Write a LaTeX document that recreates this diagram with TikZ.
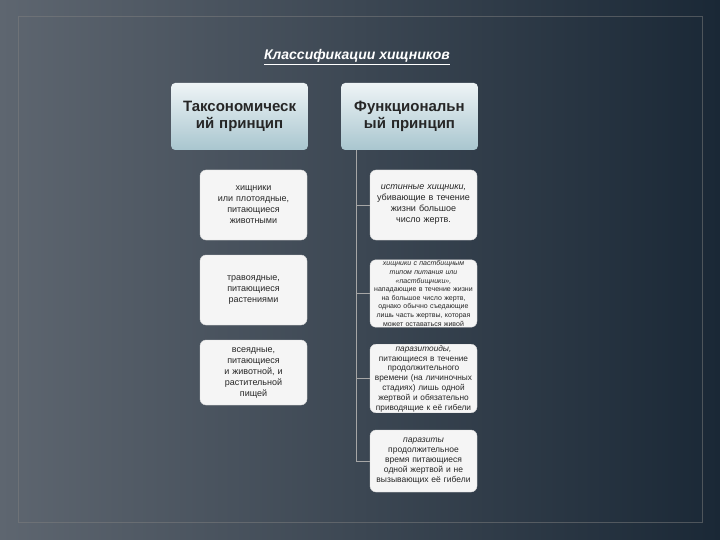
\documentclass[tikz,border=0pt]{standalone}
\usepackage{fontspec}
\setmainfont{Liberation Sans}
\definecolor{bgl}{HTML}{5E6670}
\definecolor{bgr}{HTML}{1A2836}
\definecolor{hdt}{HTML}{EEF4F6}
\definecolor{hdb}{HTML}{A9C6CF}
\begin{document}
\begin{tikzpicture}[x=1pt,y=-1pt,
 head/.style={draw=none,rounded corners=4pt,top color=hdt,bottom color=hdb,minimum width=135pt,minimum height=67pt,text width=130pt,align=center,font=\bfseries\fontsize{15}{17}\selectfont,text=black!85},
 child/.style={rounded corners=6pt,fill=white!92!gray,draw=white!70!gray,minimum width=107pt,text width=90pt,align=center,font=\fontsize{9}{11}\selectfont,text=black!85,inner sep=1pt},
 conn/.style={draw=gray!70,line width=0.8pt}]
\useasboundingbox (0,0) rectangle (720,540);
\shade[left color=bgl, right color=bgr] (0,0) rectangle (720,540);
\draw[gray,opacity=0.5] (18,16) rectangle (702,522);
\node[font=\bfseries\itshape\fontsize{14}{16}\selectfont,text=white] (t) at (357,57) {\underline{Классификации хищников}};
\node[head] (h1) at (239.5,116.5) {Таксономическ ий принцип};
\node[head] (h2) at (409.5,116.5) {Функциональн ый принцип};
\node[child,minimum height=70pt] (l1) at (253.5,205) {хищники\\ или плотоядные, питающиеся животными};
\node[child,minimum height=70pt] (l2) at (253.5,290) {травоядные, питающиеся растениями};
\node[child,minimum height=65pt,text width=75pt] (l3) at (253.5,372.5) {всеядные, питающиеся и животной, и растительной пищей};
\coordinate (tr) at (356,150);
\coordinate (be) at (356,462);
\draw[conn] (tr) -- (be);
\node[child,minimum height=70pt,text width=96pt] (r1) at (423.5,205) {\textit{истинные хищники,} убивающие в течение жизни большое число жертв.};
\node[child,minimum height=67pt,font=\itshape\fontsize{7}{8.6}\selectfont,text width=100pt] (r2) at (423.5,293.5) {хищники с пастбищным типом питания или «пастбищники», \upshape нападающие в течение жизни на большое число жертв, однако обычно съедающие лишь часть жертвы, которая может оставаться живой};
\node[child,minimum height=67pt,font=\fontsize{8.3}{9.8}\selectfont,text width=105pt] (r3) at (423.5,378.5) {\textit{паразитоиды,} питающиеся в течение продолжительного времени (на личиночных стадиях) лишь одной жертвой и обязательно приводящие к её гибели};
\node[child,minimum height=62pt,font=\fontsize{8.5}{10}\selectfont,text width=100pt] (r4) at (423.5,461) {\textit{паразиты}\\ продолжительное время питающиеся одной жертвой и не вызывающих её гибели};
\foreach \n in {r1,r2,r3,r4} \draw[conn] (\n.west -| tr) -- (\n.west);
\end{tikzpicture}
\end{document}
